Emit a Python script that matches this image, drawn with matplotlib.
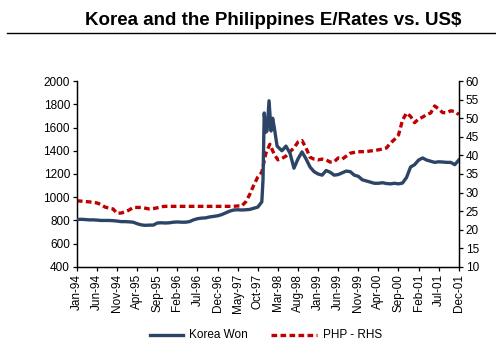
import matplotlib
matplotlib.use("Agg")
import matplotlib.pyplot as plt
from matplotlib.lines import Line2D

plt.rcParams['font.family'] = ['Liberation Sans', 'DejaVu Sans']

# x tick labels, every 5 months from Jan-94
tick_labels = ["Jan-94", "Jun-94", "Nov-94", "Apr-95", "Sep-95", "Feb-96", "Jul-96",
               "Dec-96", "May-97", "Oct-97", "Mar-98", "Aug-98", "Jan-99", "Jun-99",
               "Nov-99", "Apr-00", "Sep-00", "Feb-01", "Jul-01", "Dec-01"]

# Korea won per US$ (months since Jan-94, extra points around the crisis)
won_month = list(range(0, 46)) + [46, 46.3, 46.6, 47.0, 47.3, 47.8, 48.3, 48.7, 49.1, 49.8] \
    + list(range(51, 96))
won = [808, 810, 808, 805, 805, 803, 800, 800, 800, 798, 795, 790,
       790, 788, 785, 772, 762, 758, 760, 760, 778, 780, 778, 780,
       785, 787, 785, 785, 790, 805, 815, 820, 822, 830, 835, 840,
       850, 865, 880, 890, 892, 890, 892, 895, 905, 915,
       960, 1150, 1725, 1560, 1570, 1830, 1570, 1680, 1600, 1440,
       1400, 1440, 1380, 1250, 1330, 1390, 1330, 1260, 1220,
       1200, 1190, 1230, 1215, 1190, 1195, 1210, 1225, 1220, 1190, 1180, 1150,
       1140, 1130, 1120, 1120, 1125, 1118, 1115, 1120, 1115, 1122, 1170, 1260,
       1280, 1320, 1338, 1320, 1310, 1300, 1305, 1303, 1300, 1300, 1280, 1320]

# Philippine peso per US$ (monthly, right axis)
php_month = list(range(0, 96))
php = [27.8, 27.7, 27.6, 27.5, 27.4, 27.2, 26.8, 26.1, 25.8, 25.6, 24.4, 24.5,
       24.8, 25.3, 26.0, 26.0, 26.0, 25.8, 25.6, 25.7, 25.9, 26.2, 26.3, 26.3,
       26.3, 26.3, 26.3, 26.3, 26.3, 26.3, 26.3, 26.3, 26.3, 26.3, 26.3, 26.3,
       26.3, 26.3, 26.3, 26.3, 26.4, 26.4, 27.5, 29.5, 32.0, 34.2, 35.5, 40.5,
       43.0, 40.5, 38.8, 39.2, 39.8, 41.0, 42.0, 43.6, 44.0, 42.0, 39.5, 39.0,
       38.8, 39.0, 38.8, 38.2, 38.3, 39.3, 39.0, 39.8, 40.6, 40.8, 41.0, 41.0,
       41.0, 41.2, 41.3, 41.5, 41.7, 42.0, 43.3, 44.3, 45.5, 49.5, 51.4, 50.5,
       48.8, 49.8, 50.3, 51.0, 51.4, 53.3, 52.5, 51.5, 51.5, 52.0, 51.8, 51.0]

won_color = "#2C4466"
php_color = "#C00000"
php_dash = (1.7, 1.0)

fig = plt.figure(figsize=(4.96, 3.54), dpi=100)
ax = fig.add_axes([0.155, 0.246, 0.77, 0.525])
ax2 = ax.twinx()

ax.plot(won_month, won, color=won_color, lw=2.4, zorder=3)
ax2.plot(php_month, php, color=php_color, lw=2.4, dashes=php_dash)

ax.set_xlim(0, 95)
ax.set_ylim(400, 2000)
ax.set_yticks(range(400, 2001, 200))
ax2.set_ylim(10, 60)
ax2.set_yticks(range(10, 61, 5))
ax.set_xticks(range(0, 96, 5))
ax.set_xticklabels(tick_labels, rotation=90)

for a in (ax, ax2):
    a.spines['top'].set_visible(False)
    for s in a.spines.values():
        s.set_linewidth(0.9)
    a.tick_params(direction='out', length=3, width=0.9, labelsize=8.5, pad=2)
ax.set_zorder(ax2.get_zorder() + 1)
ax.patch.set_visible(False)

fig.text(0.55, 0.943, "Korea and the Philippines E/Rates vs. US$",
         ha='center', va='center', fontsize=13.5, fontweight='bold')
fig.add_artist(Line2D([0.014, 1.0], [0.907, 0.907], color='black', lw=1))

# legend drawn by hand: handle lengths differ in the original
ly = 0.054
fig.add_artist(Line2D([150 / 496, 183 / 496], [ly, ly], color=won_color, lw=2.4))
fig.text(189 / 496, ly, "Korea Won", va='center', fontsize=8.5)
fig.add_artist(Line2D([271 / 496, 317 / 496], [ly, ly], color=php_color, lw=2.4,
                      dashes=php_dash))
fig.text(323 / 496, ly, "PHP - RHS", va='center', fontsize=8.5)

fig.savefig("out.png", dpi=100)
